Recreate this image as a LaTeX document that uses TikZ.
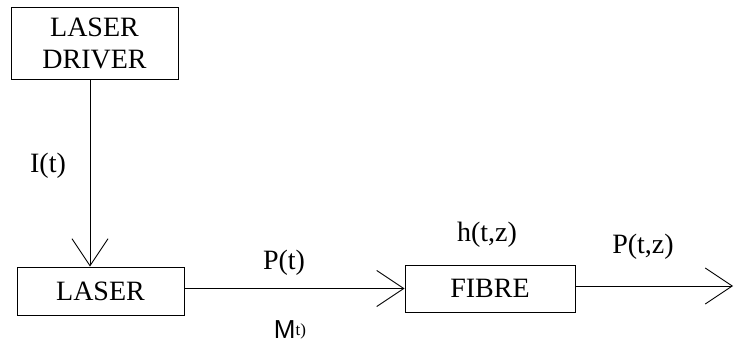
\documentclass[tikz,border=0pt]{standalone}
\usepackage{fontspec}
\setmainfont{Liberation Serif}
\newfontfamily\msans{Liberation Sans}
\usetikzlibrary{arrows.meta}
\begin{document}
\begin{tikzpicture}[x=1pt,y=-1pt,
  every node/.style={font=\fontsize{28}{32}\selectfont},
  blk/.style={draw, line width=0.9pt, inner sep=0pt, align=center},
  lbl/.style={inner sep=0pt},
  arr/.style={line width=0.9pt, -{Straight Barb[length=27pt,width=36pt,line width=0.9pt]}},
  ln/.style={line width=0.9pt}]
\useasboundingbox (0,0) rectangle (734,350);
\node[blk, minimum width=167pt, minimum height=72pt] (driver) at (94.5,43) {LASER\\DRIVER};
\node[blk, minimum width=167pt, minimum height=48pt] (laser) at (100.5,291) {LASER};
\node[blk, minimum width=170pt, minimum height=47pt] (fibre) at (490,288.5) {FIBRE};
\coordinate (out) at (733,286);
\draw[arr] ([xshift=-4.5pt]driver.south) -- ([xshift=-10.5pt]laser.north);
\draw[arr] (laser.east |- fibre.west) -- (fibre.west);
\draw[arr] (fibre.east |- out) -- (out);
\node[lbl] (it) at (48,166) {I(t)};
\node[lbl] (pt) at (284,263) {P(t)};
\node[lbl] (mt) at (290,330) {{\msans\fontsize{26}{30}\selectfont M}\raisebox{3pt}{\fontsize{17}{20}\selectfont t)}};
\node[lbl] (htz) at (487,235) {h(t,z)};
\node[lbl] (ptz) at (643,247) {P(t,z)};
\end{tikzpicture}
\end{document}
